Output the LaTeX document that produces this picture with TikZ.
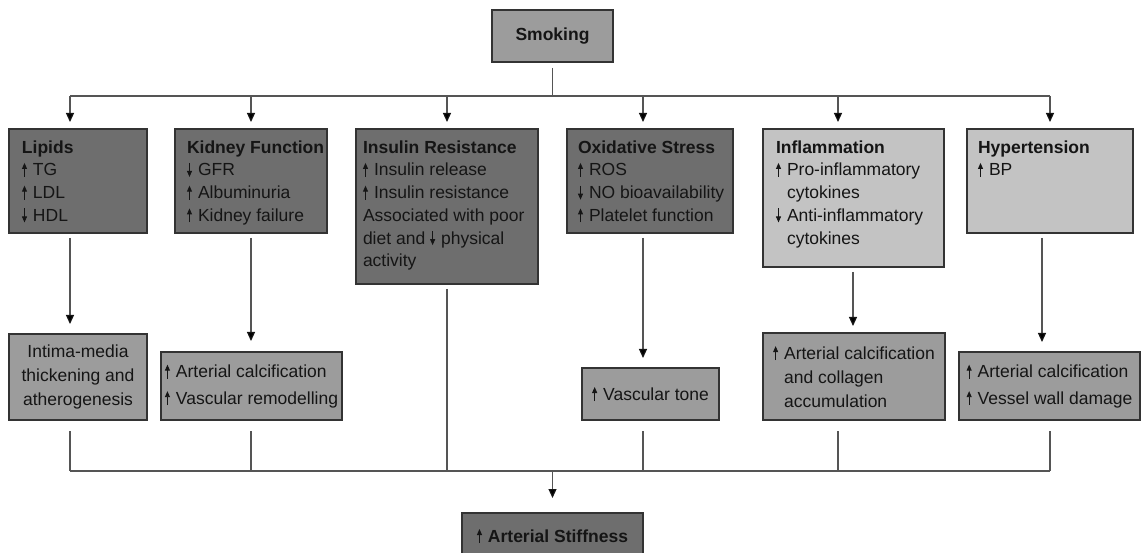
\documentclass[tikz,border=0pt]{standalone}
\usepackage{fontspec}
\setmainfont{Liberation Sans}
\usetikzlibrary{arrows.meta}
\definecolor{dk}{HTML}{6E6E6E}
\definecolor{md}{HTML}{9C9C9C}
\definecolor{lt}{HTML}{C3C3C3}
\definecolor{edge}{HTML}{333333}
\definecolor{wire}{HTML}{555555}
\definecolor{ink}{HTML}{151515}
\newcommand\upa{\makebox[11pt][l]{\tikz[baseline=0pt]\draw[ink,line width=0.9pt,-{Triangle[length=6pt,width=5pt]}] (2.5pt,-1pt)--(2.5pt,13pt);}}
\newcommand\dna{\makebox[11pt][l]{\tikz[baseline=0pt]\draw[ink,line width=0.9pt,-{Triangle[length=6pt,width=5pt]}] (2.5pt,13pt)--(2.5pt,-1pt);}}
\newcommand\ind{\hspace*{11pt}}
\newcommand\tbox[4]{\parbox[c][#1][t]{#2}{\raggedright\leftskip=#3\relax\vspace*{11.5pt}#4\par}}
\tikzset{
  bx/.style={draw=edge, line width=1.4pt, inner sep=0pt, outer sep=0pt, anchor=north west,
    text=ink, font=\fontsize{17.5}{22.75}\selectfont},
  lowbox/.style={bx, fill=md, align=left, font=\fontsize{17.5}{24}\selectfont},
  twoline/.style={font=\fontsize{17.5}{26.5}\selectfont},
  wireline/.style={draw=wire, line width=1.2pt},
  arr/.style={wireline, -{Triangle[length=9pt,width=8pt,color=ink]}}
}
\begin{document}
\begin{tikzpicture}[x=1pt,y=-1pt]
\useasboundingbox (0,0) rectangle (1141,553);
\clip (0,0) rectangle (1141,553);
% top
\node[bx, fill=md, minimum width=121pt, minimum height=52pt] (smk) at (492,10) {\textbf{Smoking}};
% first row
\node[bx, fill=dk] (lip) at (9,129) {\tbox{104pt}{138pt}{13pt}{\textbf{Lipids}\\\upa TG\\\upa LDL\\\dna HDL}};
\node[bx, fill=dk] (kid) at (175,129) {\tbox{104pt}{152pt}{12pt}{\textbf{Kidney Function}\\\dna GFR\\\upa Albuminuria\\\upa Kidney failure}};
\node[bx, fill=dk] (ins) at (356,129) {\tbox{155pt}{182pt}{7pt}{\textbf{Insulin Resistance}\\\upa Insulin release\\\upa Insulin resistance\\Associated with poor\\diet and \dna physical\\activity}};
\node[bx, fill=dk] (oxi) at (567,129) {\tbox{104pt}{166pt}{11pt}{\textbf{Oxidative Stress}\\\upa ROS\\\dna NO bioavailability\\\upa Platelet function}};
\node[bx, fill=lt] (inf) at (763,129) {\tbox{138pt}{181pt}{13pt}{\textbf{Inflammation}\\\upa Pro-inflammatory\\\ind cytokines\\\dna Anti-inflammatory\\\ind cytokines}};
\node[bx, fill=lt] (hyp) at (967,129) {\tbox{104pt}{166pt}{11pt}{\textbf{Hypertension}\\\upa BP}};
% second row
\node[lowbox, align=center, minimum width=138pt, minimum height=86pt] (imt) at (9,334) {Intima-media\\thickening and\\atherogenesis};
\node[lowbox, twoline, minimum width=181pt, minimum height=68pt] (kcal) at (161,352) {\upa Arterial calcification\\\upa Vascular remodelling};
\node[lowbox, minimum width=137pt, minimum height=52pt] (vt) at (582,368) {\upa Vascular tone};
\node[lowbox, minimum width=182pt, minimum height=87pt] (col) at (763,333) {\upa Arterial calcification\\\ind and collagen\\\ind accumulation};
\node[lowbox, twoline, minimum width=181pt, minimum height=68pt] (vwd) at (959,352) {\upa Arterial calcification\\\upa Vessel wall damage};
% result
\node[bx, fill=dk, minimum width=181pt, minimum height=46pt] (ast) at (462,513) {\upa\textbf{Arterial Stiffness}};
% bus coordinates
\coordinate (t1) at (70,96);
\coordinate (t2) at (251,96);
\coordinate (t3) at (447,96);
\coordinate (t4) at (643,96);
\coordinate (t5) at (838,96);
\coordinate (t6) at (1050,96);
\coordinate (m5) at (853,96);
\coordinate (m6) at (1042,96);
\coordinate (u1) at (70,471);
\coordinate (u3) at (447,471);
\coordinate (u6) at (1050,471);
% smoking to first row
\draw[wireline, shorten <=6pt] (smk.south) -- (smk.south |- t1);
\draw[wireline] (t1) -- (t6);
\draw[arr, shorten >=7pt] (t1) -- (t1 |- lip.north);
\draw[arr, shorten >=7pt] (t2) -- (t2 |- kid.north);
\draw[arr, shorten >=7pt] (t3) -- (t3 |- ins.north);
\draw[arr, shorten >=7pt] (t4) -- (t4 |- oxi.north);
\draw[arr, shorten >=7pt] (t5) -- (t5 |- inf.north);
\draw[arr, shorten >=7pt] (t6) -- (t6 |- hyp.north);
% first row to second row
\draw[arr, shorten <=5pt, shorten >=10pt] (lip.south -| t1) -- (imt.north -| t1);
\draw[arr, shorten <=5pt, shorten >=11pt] (kid.south -| t2) -- (kcal.north -| t2);
\draw[arr, shorten <=5pt, shorten >=10pt] (oxi.south -| t4) -- (vt.north -| t4);
\draw[arr, shorten <=5pt, shorten >=7pt] (inf.south -| m5) -- (col.north -| m5);
\draw[arr, shorten <=5pt, shorten >=10pt] (hyp.south -| m6) -- (vwd.north -| m6);
% second row to bottom bus
\draw[wireline, shorten <=11pt] (imt.south -| u1) -- (u1);
\draw[wireline, shorten <=11pt] (kcal.south -| t2) -- (t2 |- u1);
\draw[wireline, shorten <=5pt] (ins.south -| u3) -- (u3);
\draw[wireline, shorten <=11pt] (vt.south -| t4) -- (t4 |- u1);
\draw[wireline, shorten <=11pt] (col.south -| t5) -- (t5 |- u1);
\draw[wireline, shorten <=11pt] (vwd.south -| u6) -- (u6);
\draw[wireline] (u1) -- (u6);
\draw[arr, shorten >=15pt] (ast.north |- u1) -- (ast.north);
\end{tikzpicture}
\end{document}
